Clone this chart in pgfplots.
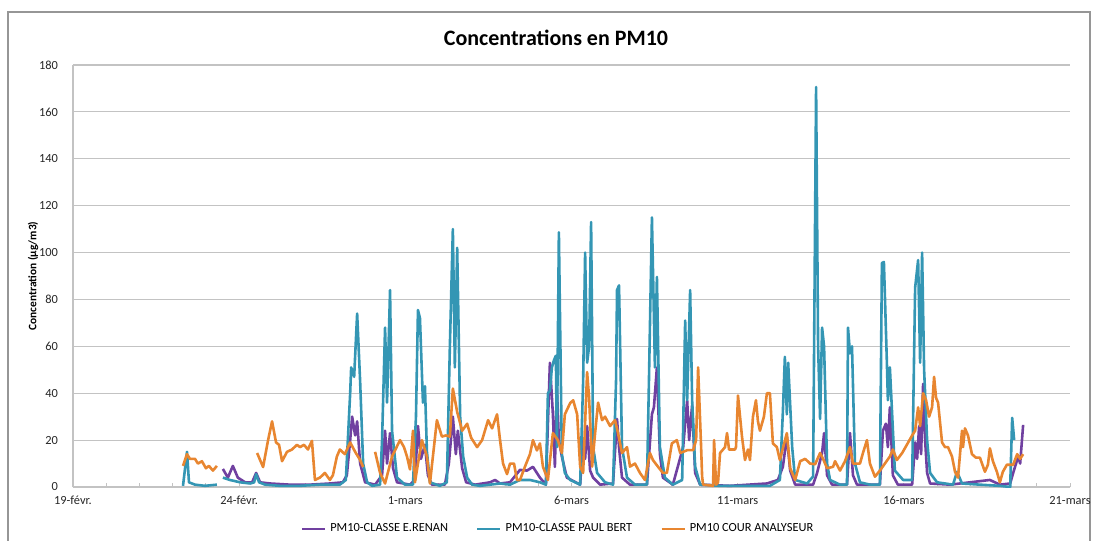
\documentclass[border=0pt]{standalone}
\usepackage{fontspec}
\setmainfont{Carlito}
\usepackage{pgfplots}
\pgfplotsset{compat=1.18}
\definecolor{cpurple}{RGB}{112,64,160}
\definecolor{cteal}{RGB}{52,150,180}
\definecolor{corange}{RGB}{232,134,48}
\definecolor{gridc}{RGB}{195,195,195}
\definecolor{framec}{RGB}{150,150,150}
\begin{document}
\begin{tikzpicture}[x=1pt,y=1pt]
\path[use as bounding box] (-36.5,-27) rectangle (510,243.5);
\draw[framec, line width=0.6pt] (-32.5,-27) -- (-32.5,237.5) -- (508.5,237.5) -- (508.5,-27);
\node[font=\fontsize{11}{13}\selectfont\bfseries] at (241.5,224.5) {Concentrations en PM10};
\node[rotate=90, font=\fontsize{5.7}{7}\selectfont\bfseries] at (-20,105.5) {Concentration (µg/m3)};
\begin{axis}[
  at={(0,0)}, anchor=south west,
  scale only axis, width=498.5pt, height=211pt,
  xmin=0, xmax=30, ymin=0, ymax=180,
  unbounded coords=jump,
  xtick={0,5,...,30},
  xticklabels={19-févr.,24-févr.,1-mars,6-mars,11-mars,16-mars,21-mars},
  minor xtick={0,1,...,30},
  ytick={0,20,...,180},
  ymajorgrids, grid style={gridc, line width=0.6pt},
  axis x line*=bottom, axis y line*=left,
  axis line style={gridc, line width=0.6pt, -},
  tick align=inside, major tick length=2pt, minor tick length=2pt,
  xtick style={gridc, line width=0.5pt},
  minor x tick style={gridc, line width=0.5pt},
  ytick style={draw=none},
  ticklabel style={font=\fontsize{6.2}{7}\selectfont, text=black!85},
  xticklabel style={yshift=-1pt},
  yticklabel style={xshift=-4pt},
  /pgf/number format/assume math mode=true,
  legend columns=3,
  legend style={at={(0.4875,-0.0995)}, anchor=center, draw=none, fill=none,
    font=\fontsize{6.2}{7}\selectfont, inner sep=0pt,
    /tikz/every even column/.append style={column sep=12pt}},
  legend image code/.code={\draw[#1] (0pt,0pt) -- (11.5pt,0pt);},
  every axis plot/.append style={line width=1.3pt, line join=round},
]
\addplot[cpurple] coordinates {
(4.51,7.7) (4.66,4) (4.81,9) (4.96,4) (5.18,2) (5.39,2) (5.51,6) (5.63,2) (5.93,1.5) (6.53,1) (7.13,1) (7.73,1.5) (8.12,2) (8.24,5) (8.34,20) (8.40,30) (8.49,22) (8.55,28) (8.64,10) (8.79,2) (9.09,1) (9.30,5) (9.39,24) (9.45,10) (9.54,23) (9.63,8) (9.75,2) (10.14,1) (10.29,3) (10.38,26) (10.47,12) (10.59,18) (10.68,5) (10.80,1) (11.19,1) (11.31,10) (11.43,30) (11.52,14) (11.58,24) (11.71,8) (11.83,2) (12.10,1) (12.55,2) (12.70,3) (12.85,1.5) (13.15,2) (13.45,7.3) (13.66,7) (13.84,8.6) (14.05,4) (14.23,1) (14.35,53) (14.44,31) (14.50,8.6) (14.56,42.7) (14.62,20) (14.71,13) (14.86,4) (15.26,1) (15.35,20) (15.41,12) (15.47,26) (15.56,7) (15.65,4) (15.86,1) (16.25,1.5) (16.37,29) (16.43,17) (16.52,4) (16.76,1) (17.27,1) (17.42,31) (17.48,34) (17.57,51) (17.66,14) (17.75,4) (18.05,1) (18.36,17) (18.48,37) (18.54,20) (18.63,35) (18.72,6) (18.87,1) (19.77,0.5) (20.88,1.5) (21.21,3) (21.36,8.6) (21.48,21.5) (21.58,7) (21.73,1) (22.27,1) (22.39,6) (22.54,14.5) (22.60,23) (22.69,5) (22.84,1) (23.29,1) (23.38,23) (23.47,5) (23.59,1) (24.28,1) (24.37,24) (24.46,27) (24.52,17) (24.58,34) (24.67,5) (24.82,1) (25.25,1) (25.34,19) (25.40,12) (25.46,26) (25.52,14) (25.58,44) (25.64,20) (25.70,6) (25.79,1.5) (26.39,1) (26.99,2) (27.59,3) (27.89,1) (28.20,1.5) (28.29,6) (28.44,13) (28.50,10) (28.59,26.5)
};
\addlegendentry{PM10-CLASSE E.RENAN}
\addplot[cteal] coordinates {
(3.31,0.5) (3.43,15) (3.49,2) (3.67,1) (3.97,0.5) (4.33,1) (4.40,nan) (4.51,4) (4.72,3) (5.03,2) (5.33,1.5) (5.45,2) (5.51,5.5) (5.60,2) (5.78,1) (6.23,0.5) (6.83,0.5) (7.43,1) (8.03,1) (8.21,3) (8.27,20) (8.34,40) (8.37,51) (8.46,47) (8.55,74) (8.64,45) (8.73,10) (8.85,2) (9.00,0.5) (9.24,1) (9.30,20) (9.39,68) (9.45,36) (9.54,84) (9.60,24) (9.75,4) (9.99,1) (10.23,1) (10.32,30) (10.38,75.5) (10.44,72) (10.53,36) (10.59,43) (10.65,15) (10.74,2) (11.04,0.5) (11.25,2) (11.34,60) (11.43,110) (11.49,51) (11.56,102) (11.65,30) (11.74,13) (11.86,4) (12.01,1) (12.25,0.5) (12.55,1) (12.85,1.5) (13.15,1) (13.45,3) (13.75,3) (14.05,2) (14.23,1) (14.29,40) (14.35,41) (14.41,51) (14.47,54) (14.53,56) (14.56,17) (14.62,108.6) (14.71,14) (14.80,6) (14.96,3) (15.26,1) (15.35,45) (15.41,100) (15.47,53) (15.53,60) (15.59,113) (15.65,17) (15.77,6) (16.01,2) (16.25,1) (16.34,45) (16.37,84) (16.43,86) (16.52,17) (16.67,4) (16.91,1) (17.27,1) (17.33,45) (17.42,115) (17.51,51) (17.57,89.6) (17.66,17) (17.81,4) (18.05,1) (18.33,3) (18.42,71) (18.48,37) (18.57,84) (18.63,37) (18.72,8.7) (18.87,1) (19.47,0.5) (20.37,0.5) (20.97,0.5) (21.27,3) (21.36,32) (21.42,55.5) (21.48,31) (21.52,53) (21.64,17) (21.73,3) (22.09,1.5) (22.27,4.5) (22.30,60) (22.36,170.6) (22.42,60) (22.48,29) (22.54,68) (22.60,60) (22.69,10) (22.78,3) (23.08,1) (23.29,1) (23.32,68) (23.38,57) (23.44,60) (23.53,10) (23.68,2) (23.98,1) (24.28,1) (24.34,95.5) (24.40,96) (24.49,53) (24.52,37) (24.58,51) (24.73,7) (24.98,3) (25.25,3) (25.34,85) (25.43,96.8) (25.49,53) (25.55,100) (25.61,50) (25.70,20) (25.79,6) (26.00,2) (26.48,1) (26.60,6.5) (26.75,1.5) (27.29,1) (27.89,0.5) (28.20,0) (28.26,29.5) (28.32,20)
};
\addlegendentry{PM10-CLASSE PAUL BERT}
\addplot[corange] coordinates {
(3.31,9) (3.43,14) (3.52,12) (3.67,12) (3.76,10) (3.88,11) (4.00,8) (4.09,9) (4.21,7) (4.33,9) (4.40,nan) (5.54,14.5) (5.72,8.5) (5.87,20) (5.99,28) (6.11,19) (6.20,18) (6.29,11) (6.44,15) (6.59,16) (6.74,18) (6.83,17) (6.95,18) (7.07,16) (7.19,19.7) (7.28,3) (7.43,4) (7.58,6) (7.73,3) (7.82,5) (7.94,13) (8.03,16) (8.18,14) (8.34,19) (8.49,15) (8.64,11.5) (8.73,8.5) (8.80,nan) (9.09,15) (9.24,6) (9.39,1.5) (9.60,13) (9.84,20) (9.96,17) (10.05,13) (10.14,7.5) (10.23,24) (10.29,2) (10.38,10) (10.50,20) (10.65,13) (10.74,1.5) (10.95,28.5) (11.10,21.5) (11.22,22) (11.34,21.5) (11.43,42) (11.56,32) (11.71,24) (11.86,27) (11.98,21) (12.16,17) (12.31,20) (12.49,28.5) (12.61,25) (12.76,31) (12.85,20) (12.94,10) (13.06,5.5) (13.15,10) (13.27,10) (13.36,3) (13.45,3) (13.60,8.7) (13.75,14) (13.84,20) (13.96,15.6) (14.05,18.6) (14.14,8.7) (14.29,3) (14.44,23) (14.59,20) (14.71,14.5) (14.80,31) (14.96,35.8) (15.05,37) (15.17,31) (15.26,8.7) (15.35,6) (15.47,49) (15.53,38) (15.62,8.7) (15.71,23) (15.80,36) (15.92,28.5) (16.01,30) (16.16,26) (16.31,28.5) (16.40,23) (16.52,14.5) (16.67,17) (16.76,8.7) (16.91,10) (17.06,6) (17.21,3) (17.36,14.5) (17.45,11.5) (17.60,8.7) (17.75,6) (17.87,6) (18.02,18.6) (18.17,20) (18.27,14.5) (18.48,15.7) (18.66,15.7) (18.75,20) (18.81,51) (18.90,17) (18.93,4.5) (18.96,1) (19.26,0.5) (19.29,20) (19.35,1) (19.41,2) (19.47,14.5) (19.62,17) (19.68,23) (19.74,16) (19.92,16) (19.95,17) (20.01,39) (20.13,21.5) (20.22,11.5) (20.31,16) (20.37,11.5) (20.46,30) (20.55,37) (20.61,28) (20.67,24) (20.79,30) (20.88,40) (20.97,40) (21.06,18.6) (21.18,17) (21.27,11.5) (21.48,23) (21.58,8) (21.73,3) (21.88,11) (22.03,12) (22.18,10) (22.33,9.7) (22.48,14.5) (22.57,12) (22.69,8) (22.87,8.6) (22.93,11) (23.08,7) (23.23,11) (23.38,17) (23.47,10) (23.68,10) (23.77,14.5) (23.89,20) (23.98,10) (24.13,4.4) (24.28,7) (24.43,10) (24.58,13) (24.67,16) (24.79,11.5) (24.95,14.5) (25.13,19) (25.25,22) (25.34,24) (25.43,34) (25.49,26) (25.58,40) (25.67,37) (25.76,30) (25.85,34) (25.91,47) (25.97,38) (26.03,36) (26.15,19) (26.24,17) (26.33,17) (26.45,13) (26.54,6.5) (26.63,4) (26.75,24) (26.78,17) (26.84,25) (26.93,22) (27.05,14) (27.17,12.5) (27.29,12.5) (27.44,6.5) (27.53,9.5) (27.59,16.5) (27.68,11) (27.80,6.5) (27.89,2) (27.98,6.5) (28.10,9.5) (28.20,9.5) (28.29,9.5) (28.41,14) (28.50,12) (28.59,14)
};
\addlegendentry{PM10 COUR ANALYSEUR}
\end{axis}
\end{tikzpicture}
\end{document}
